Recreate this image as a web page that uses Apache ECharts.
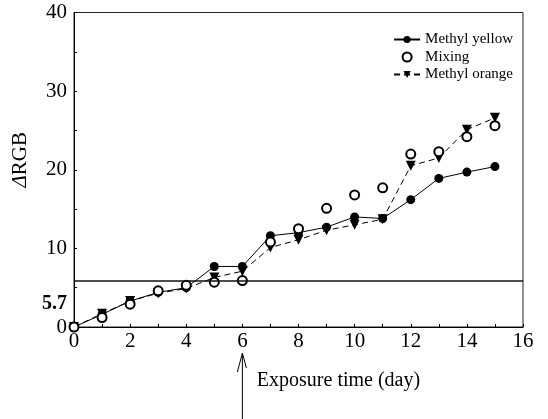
<!DOCTYPE html>
<html>
<head>
<meta charset="utf-8">
<script src="https://cdn.jsdelivr.net/npm/echarts@6/dist/echarts.min.js"></script>
<style>
html,body{margin:0;padding:0;background:#fff;}
#c{width:548px;height:419px;}
</style>
</head>
<body>
<div id="c"></div>
<script>
// ---- data ----
var days = [0, 1, 2, 3, 4, 5, 6, 7, 8, 9, 10, 11, 12, 13, 14, 15];
var methylYellow = [0, 1.6, 3.3, 4.4, 5.0, 7.7, 7.7, 11.6, 12.0, 12.7, 14.0, 13.8, 16.2, 18.9, 19.7, 20.4];
var mixing       = [0, 1.2, 2.9, 4.6, 5.3, 5.7, 5.9, 10.8, 12.5, 15.1, 16.8, 17.7, 22.0, 22.3, 24.2, 25.6];
var methylOrange = [0, 1.7, 3.3, 4.3, 4.9, 6.3, 7.1, 10.1, 11.1, 12.3, 13.0, 13.7, 20.5, 21.5, 25.1, 26.6];
var seriesNames = ['Methyl yellow', 'Mixing', 'Methyl orange'];
var xTicks = [0, 2, 4, 6, 8, 10, 12, 14, 16];
var yTicks = [0, 10, 20, 30, 40];
var thresholdValue = 5.9;      // where the horizontal line is drawn
var thresholdText = '5.7';     // its printed label
var thresholdTextAt = 3;       // where that label sits on the y axis
var arrowDay = 6;
var xName = 'Exposure time (day)';

function pairs(vals) { return days.map(function (d, i) { return [d, vals[i]]; }); }

var FONT = '"Liberation Serif", "DejaVu Serif", serif';
var chart = echarts.init(document.getElementById('c'), null, {renderer: 'canvas'});

var option = {
  backgroundColor: '#fff',
  animation: false,
  textStyle: {fontFamily: FONT, color: '#000'},
  grid: {left: 74, right: 25, top: 12.5, bottom: 92, show: true, borderColor: '#222', borderWidth: 1, containLabel: false},
  legend: {
    orient: 'vertical', right: 30, top: 27, itemGap: 2.5, itemWidth: 26, itemHeight: 9,
    data: seriesNames,
    textStyle: {fontFamily: FONT, fontSize: 15, color: '#000'}
  },
  xAxis: {
    type: 'value', min: 0, max: 16, interval: 2,
    name: xName, nameLocation: 'middle', nameGap: 44,
    nameTextStyle: {fontFamily: FONT, fontSize: 20, color: '#000', padding: [0, 0, 0, 80]},
    axisLine: {show: true, onZero: false, lineStyle: {color: '#000', width: 1}},
    axisTick: {show: true, inside: true, length: 3, lineStyle: {color: '#000'}},
    minorTick: {show: true, splitNumber: 2, length: 3, lineStyle: {color: '#000'}},
    splitLine: {show: false},
    axisLabel: {
      customValues: xTicks,
      fontFamily: FONT, fontSize: 21, color: '#000', margin: 4
    }
  },
  yAxis: {
    type: 'value', min: 0, max: 40, interval: 10,
    name: '{d|Δ}RGB', nameLocation: 'middle', nameGap: 32, nameRotate: 90,
    nameTextStyle: {
      fontFamily: FONT, fontSize: 21, color: '#000', padding: [0, 0, 0, 20],
      rich: {d: {fontFamily: FONT, fontSize: 21, fontStyle: 'italic', color: '#000'}}
    },
    axisLine: {show: true, onZero: false, lineStyle: {color: '#000', width: 1}},
    axisTick: {show: true, inside: true, length: 3, lineStyle: {color: '#000'}},
    minorTick: {show: true, splitNumber: 2, length: 3, lineStyle: {color: '#000'}},
    splitLine: {show: false},
    axisLabel: {
      customValues: yTicks.concat([thresholdTextAt]),
      margin: 7,
      formatter: function (v) {
        if (v === thresholdTextAt) return '{b|' + thresholdText + '}';
        return String(v);
      },
      fontFamily: FONT, fontSize: 21, color: '#000',
      rich: {b: {fontFamily: FONT, fontSize: 20, fontWeight: 'bold', color: '#000'}}
    }
  },
  series: [
    {
      name: seriesNames[0], type: 'line', data: pairs(methylYellow),
      symbol: 'circle', symbolSize: 9,
      itemStyle: {color: '#000'},
      lineStyle: {color: '#000', width: 1, type: 'solid'},
      z: 3,
      markLine: {
        silent: true, symbol: ['none', 'none'], label: {show: false},
        lineStyle: {color: '#111', width: 1.5, type: 'solid'},
        data: [{yAxis: thresholdValue}]
      }
    },
    {
      name: seriesNames[1], type: 'scatter', data: pairs(mixing),
      symbol: 'emptyCircle', symbolSize: 9,
      itemStyle: {color: '#000', borderColor: '#000', borderWidth: 1, opacity: 1},
      z: 4
    },
    {
      name: seriesNames[2], type: 'line', data: pairs(methylOrange),
      symbol: 'triangle', symbolRotate: 180, symbolSize: 10,
      itemStyle: {color: '#000'},
      lineStyle: {color: '#000', width: 1, type: [6, 4]},
      z: 3
    }
  ]
};
chart.setOption(option);

// arrow under the x axis pointing at day 6
var ax = chart.convertToPixel({xAxisIndex: 0}, arrowDay);
var yBase = chart.convertToPixel({yAxisIndex: 0}, 0);
var tipY = yBase + 26;
chart.setOption({
  graphic: [{
    type: 'group', silent: true,
    children: [
      {type: 'line', shape: {x1: ax, y1: tipY, x2: ax, y2: 419}, style: {stroke: '#000', lineWidth: 1}},
      {type: 'polyline', shape: {points: [[ax - 5, tipY + 19], [ax, tipY], [ax + 4, tipY + 15]]}, style: {stroke: '#000', lineWidth: 1, fill: null}}
    ]
  }]
});
</script>
</body>
</html>
